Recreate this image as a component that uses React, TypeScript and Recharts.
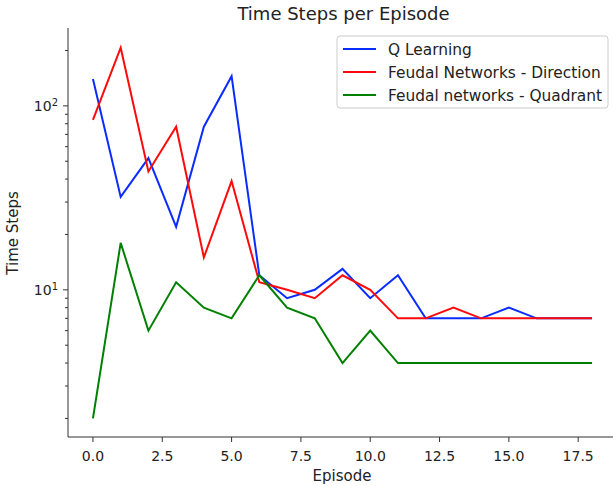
import React from 'react';
import { LineChart, Line, XAxis, YAxis } from 'recharts';

const FONT = '"DejaVu Sans", sans-serif';

const episodes = [0, 1, 2, 3, 4, 5, 6, 7, 8, 9, 10, 11, 12, 13, 14, 15, 16, 17, 18];
const qLearning = [140, 32, 52, 22, 77, 145, 12, 9, 10, 13, 9, 12, 7, 7, 7, 8, 7, 7, 7];
const feudalDirection = [84, 207, 44, 77, 15, 39, 11, 10, 9, 12, 10, 7, 7, 8, 7, 7, 7, 7, 7];
const feudalQuadrant = [2, 18, 6, 11, 8, 7, 12, 8, 7, 4, 6, 4, 4, 4, 4, 4, 4, 4, 4];

const seriesNames = ['Q Learning', 'Feudal Networks - Direction', 'Feudal networks - Quadrant'];
const seriesKeys = ['q', 'fd', 'fq'];
const seriesColors = ['#0a2cff', '#ff0a0a', '#008000'];

const xTicks = [0, 2.5, 5, 7.5, 10, 12.5, 15, 17.5];
const yTicks = [2, 3, 4, 5, 6, 7, 8, 9, 10, 20, 30, 40, 50, 60, 70, 80, 90, 100, 200];

const data = episodes.map((e, i) => ({
  episode: e,
  q: qLearning[i],
  fd: feudalDirection[i],
  fq: feudalQuadrant[i],
}));

function YTick(props: any) {
  const { x, y, payload } = props;
  const v = payload.value;
  const exp = Math.log10(v);
  const major = Math.abs(exp - Math.round(exp)) < 1e-9;
  return (
    <g>
      <line x1={x} x2={x - (major ? 5 : 3)} y1={y} y2={y} stroke="#333" strokeWidth={1} />
      {major && (
        <text x={x - 10} y={y} dy={5.5} textAnchor="end" fontSize={14} fontFamily={FONT} fill="#222">
          10
          <tspan dy={-5.5} fontSize={10}>{Math.round(exp)}</tspan>
        </text>
      )}
    </g>
  );
}

export default function App() {
  return (
    <div style={{ position: 'absolute', left: 0, top: 0, width: 613, height: 486, overflow: 'hidden', background: '#fff' }}>
      <LineChart width={630} height={486} data={data} margin={{ top: 28, right: 13, bottom: 0, left: 0 }}>
        <XAxis
          dataKey="episode"
          type="number"
          domain={[-0.9, 18.9]}
          ticks={xTicks}
          interval={0}
          allowDataOverflow
          height={49}
          tickSize={5}
          tickMargin={9}
          tickFormatter={(v: number) => v.toFixed(1)}
          stroke="#333"
          tick={{ fill: '#222', fontSize: 14, fontFamily: FONT }}
        />
        <XAxis
          xAxisId="top"
          orientation="top"
          dataKey="episode"
          type="number"
          domain={[-0.9, 18.9]}
          height={0}
          tick={false}
          tickLine={false}
          stroke="#333"
        />
        <YAxis
          type="number"
          scale="log"
          domain={[1.585, 265]}
          allowDataOverflow
          ticks={yTicks}
          interval={0}
          width={68}
          tickLine={false}
          tickSize={0}
          tickMargin={0}
          tick={<YTick />}
          stroke="#333"
        />
        {seriesKeys.map((k, i) => (
          <Line
            key={k}
            dataKey={k}
            name={seriesNames[i]}
            stroke={seriesColors[i]}
            strokeWidth={2}
            dot={false}
            isAnimationActive={false}
            type="linear"
          />
        ))}
      </LineChart>
      <svg width={613} height={486} style={{ position: 'absolute', left: 0, top: 0, pointerEvents: 'none' }}>
        <text x={343.5} y={20} textAnchor="middle" fontSize={18} fontFamily={FONT} fill="#222">
          Time Steps per Episode
        </text>
        <text x={342} y={481} textAnchor="middle" fontSize={15} fontFamily={FONT} fill="#222">
          Episode
        </text>
        <text x={18} y={233} textAnchor="middle" fontSize={15} fontFamily={FONT} fill="#222" transform="rotate(-90, 18, 233)">
          Time Steps
        </text>
        <rect x={337} y={36} width={271} height={72} rx={3} fill="#fff" fillOpacity={0.8} stroke="#ccc" />
        {seriesNames.map((n, i) => (
          <g key={n}>
            <line x1={343} x2={376} y1={49 + i * 23} y2={49 + i * 23} stroke={seriesColors[i]} strokeWidth={2} />
            <text x={388} y={49 + i * 23 + 5.5} fontSize={15.4} fontFamily={FONT} fill="#222">
              {n}
            </text>
          </g>
        ))}
      </svg>
    </div>
  );
}
